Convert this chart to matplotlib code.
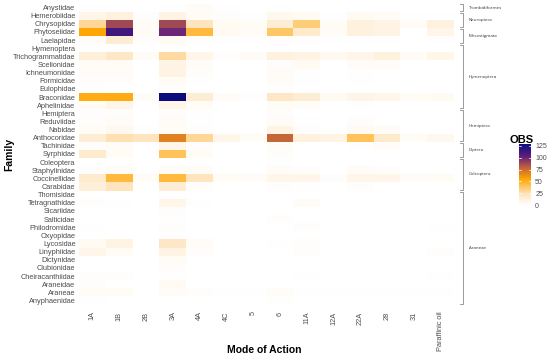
import numpy as np
import matplotlib
matplotlib.use("Agg")
import matplotlib.pyplot as plt
from matplotlib.colors import LinearSegmentedColormap

plt.rcParams['font.family'] = ['Liberation Sans', 'DejaVu Sans']

modes = ["1A", "1B", "2B", "3A", "4A", "4C", "5", "6", "11A", "12A", "22A", "28", "31", "Paraffinic oil"]
families = ["Anystidae", "Hemerobiidae", "Chrysopidae", "Phytoseiidae", "Laelapidae", "Hymenoptera",
            "Trichogrammatidae", "Scelionidae", "Ichneumonidae", "Formicidae", "Eulophidae", "Braconidae",
            "Aphelinidae", "Hemiptera", "Reduviidae", "Nabidae", "Anthocoridae", "Tachinidae", "Syrphidae",
            "Coleoptera", "Staphylinidae", "Coccinellidae", "Carabidae", "Thomisidae", "Tetragnathidae",
            "Sicariidae", "Salticidae", "Philodromidae", "Oxyopidae", "Lycosidae", "Linyphiidae", "Dictynidae",
            "Clubionidae", "Cheiracanthiidae", "Araneidae", "Araneae", "Anyphaenidae"]

# OBS values per family (rows) and mode of action (columns)
obs = [
    [1, 1, 0, 1, 3, 1, 0, 1, 0, 0, 0, 0, 0, 0],          # Anystidae
    [8, 12, 2, 10, 4, 2, 1, 6, 5, 1, 5, 3, 1, 1],        # Hemerobiidae
    [30, 88, 3, 88, 22, 5, 4, 15, 35, 4, 12, 10, 3, 12], # Chrysopidae
    [55, 112, 4, 100, 45, 5, 4, 38, 18, 4, 12, 10, 0, 8],# Phytoseiidae
    [3, 15, 2, 5, 2, 1, 1, 2, 2, 1, 1, 1, 0, 1],         # Laelapidae
    [1, 1, 0, 1, 0, 0, 0, 1, 0, 0, 0, 0, 0, 0],          # Hymenoptera
    [14, 20, 3, 28, 8, 2, 3, 12, 10, 6, 8, 12, 3, 8],    # Trichogrammatidae
    [4, 4, 0, 10, 3, 0, 0, 2, 5, 0, 3, 3, 0, 0],         # Scelionidae
    [3, 3, 0, 10, 2, 0, 0, 3, 1, 0, 1, 0, 0, 0],         # Ichneumonidae
    [2, 2, 0, 4, 1, 0, 0, 3, 1, 0, 1, 0, 0, 0],          # Formicidae
    [1, 0, 0, 2, 0, 0, 0, 1, 0, 0, 0, 0, 0, 0],          # Eulophidae
    [52, 52, 3, 129, 15, 3, 2, 20, 15, 5, 9, 7, 4, 5],   # Braconidae
    [4, 8, 0, 8, 4, 0, 0, 4, 3, 0, 1, 0, 0, 0],          # Aphelinidae
    [2, 2, 0, 2, 1, 0, 0, 2, 0, 0, 0, 0, 0, 0],          # Hemiptera
    [2, 3, 0, 3, 1, 0, 0, 3, 1, 0, 2, 0, 0, 0],          # Reduviidae
    [4, 6, 1, 4, 2, 0, 0, 10, 2, 0, 5, 3, 0, 0],         # Nabidae
    [15, 25, 22, 68, 30, 8, 4, 78, 12, 10, 40, 18, 4, 6],# Anthocoridae
    [2, 3, 0, 8, 2, 0, 0, 4, 0, 0, 1, 3, 0, 0],          # Tachinidae
    [18, 4, 0, 40, 4, 0, 0, 2, 0, 0, 0, 0, 0, 0],        # Syrphidae
    [0, 0, 0, 0, 0, 0, 0, 1, 0, 0, 0, 0, 0, 0],          # Coleoptera
    [2, 3, 0, 3, 3, 0, 0, 3, 2, 0, 3, 2, 0, 0],          # Staphylinidae
    [18, 45, 4, 45, 22, 4, 3, 8, 8, 2, 8, 8, 3, 4],      # Coccinellidae
    [14, 22, 0, 15, 2, 0, 0, 2, 1, 0, 2, 0, 0, 0],       # Carabidae
    [0, 0, 0, 1, 0, 0, 0, 0, 0, 0, 0, 0, 0, 0],          # Thomisidae
    [2, 1, 0, 8, 1, 0, 0, 0, 3, 0, 0, 0, 0, 0],          # Tetragnathidae
    [0, 0, 0, 2, 0, 0, 0, 0, 0, 0, 0, 0, 0, 0],          # Sicariidae
    [0, 0, 0, 1, 0, 0, 0, 2, 0, 0, 0, 0, 0, 0],          # Salticidae
    [1, 0, 0, 2, 0, 0, 0, 0, 2, 0, 0, 0, 0, 1],          # Philodromidae
    [0, 0, 0, 1, 0, 0, 0, 0, 0, 0, 0, 0, 0, 0],          # Oxyopidae
    [5, 10, 0, 20, 3, 0, 0, 1, 2, 0, 0, 0, 0, 0],        # Lycosidae
    [8, 4, 0, 10, 2, 0, 0, 0, 2, 0, 0, 0, 0, 2],         # Linyphiidae
    [0, 0, 0, 4, 0, 0, 0, 0, 0, 0, 0, 0, 0, 0],          # Dictynidae
    [0, 0, 0, 2, 0, 0, 0, 0, 0, 0, 0, 0, 0, 0],          # Clubionidae
    [2, 2, 0, 1, 0, 0, 0, 0, 1, 0, 0, 0, 0, 1],          # Cheiracanthiidae
    [2, 0, 0, 5, 0, 0, 0, 0, 0, 0, 0, 0, 0, 0],          # Araneidae
    [4, 4, 0, 3, 2, 1, 1, 3, 1, 1, 1, 1, 1, 1],          # Araneae
    [1, 0, 0, 0, 0, 0, 0, 1, 0, 0, 0, 0, 0, 0],          # Anyphaenidae
]

orders = ["Trombidiformes", "Neuroptera", "Mesostigmata", "Hymenoptera", "Hemiptera",
          "Diptera", "Coleoptera", "Araneae"]
order_first = ["Anystidae", "Hemerobiidae", "Phytoseiidae", "Hymenoptera", "Hemiptera",
               "Tachinidae", "Coleoptera", "Thomisidae"]
order_last = ["Anystidae", "Chrysopidae", "Laelapidae", "Aphelinidae", "Anthocoridae",
              "Syrphidae", "Carabidae", "Anyphaenidae"]

cbar_ticks = [0, 25, 50, 75, 100, 125]

data = np.array(obs, dtype=float)
vmax = 129

cmap = LinearSegmentedColormap.from_list(
    "obs", [(0.0, "#FFFFFF"), (0.18, "#FEE3BC"), (0.43, "#FFA500"),
            (0.62, "#C0603E"), (0.8, "#5E1E7C"), (1.0, "#0B0B7E")])

fig = plt.figure(figsize=(5.5, 3.59), dpi=100)
ax = fig.add_axes([79 / 550, 1 - 304.5 / 359, 375 / 550, 301 / 359])
mesh = ax.pcolormesh(np.arange(len(modes) + 1) - 0.5, np.arange(len(families) + 1) - 0.5, data,
                     cmap=cmap, vmin=0, vmax=vmax, edgecolors="none", linewidth=0)
ax.set_xlim(-0.5, len(modes) - 0.5)
ax.set_ylim(len(families) - 0.5, -0.5)
for s in ax.spines.values():
    s.set_visible(False)
ax.set_xticks(np.arange(len(modes)))
ax.set_xticklabels(modes, rotation=90, fontsize=5.3, color="#4D4D4D")
ax.set_yticks(np.arange(len(families)))
ax.set_yticklabels(families, fontsize=5.3, color="#4D4D4D")
ax.tick_params(length=0, pad=2.5)
ax.tick_params(axis="x", pad=5)
ax.set_xlabel("Mode of Action", fontsize=7.5, fontweight="bold")
ax.set_ylabel("Family", fontsize=7.5, fontweight="bold")
ax.xaxis.set_label_coords(0.495, -0.135)
ax.yaxis.set_label_coords(-0.172, 0.5)

# order brackets
tr = ax.get_yaxis_transform()
xb = 1.024
for name, f0, f1 in zip(orders, order_first, order_last):
    r0 = families.index(f0) - 0.5 + 0.12
    r1 = families.index(f1) + 0.5 - 0.12
    ax.plot([xb - 0.008, xb, xb, xb - 0.008], [r0, r0, r1, r1], transform=tr,
            color="#8C8C8C", lw=0.6, clip_on=False)
    ax.text(xb + 0.016, (r0 + r1) / 2, name, transform=tr, fontsize=3.2,
            color="#333333", va="center", ha="left", family=["Open Sans", "DejaVu Sans"])

# colorbar
cax = fig.add_axes([519 / 550, 1 - 205 / 359, 12 / 550, 61 / 359])
cb = fig.colorbar(mesh, cax=cax, ticks=cbar_ticks)
cb.outline.set_visible(False)
cax.tick_params(length=0, labelsize=5, labelcolor="#4D4D4D", pad=3)
for t in cbar_ticks:
    cax.plot([0, 0.2], [t, t], color="white", lw=0.5)
    cax.plot([0.8, 1], [t, t], color="white", lw=0.5)
cax.set_xlim(0, 1)
fig.text(522 / 550, 1 - 140 / 359, "OBS", fontsize=8, fontweight="bold", ha="center", va="center")

fig.savefig("out.png", dpi=100)
